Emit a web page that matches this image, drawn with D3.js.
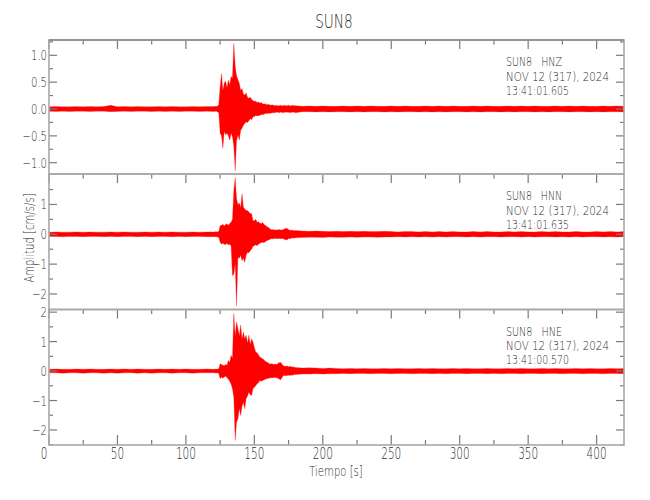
<!DOCTYPE html>
<html><head><meta charset="utf-8">
<script src="https://cdn.jsdelivr.net/npm/d3@7"></script>
<style>
body{margin:0;background:#fff;}
svg text{font-family:"DejaVu Sans","Liberation Sans",sans-serif;font-weight:200;fill:#2e2e2e;}
</style></head><body>
<svg id="chart" width="650" height="500"></svg>
<script>
// ---- data ----
const title = "SUN8";
const station = "SUN8";
const dateLabel = "NOV 12 (317), 2024";
const channels = ["HNZ", "HNN", "HNE"];
const startTimes = ["13:41:01.605", "13:41:01.635", "13:41:00.570"];
const xLabel = "Tiempo [s]";
const yLabel = "Amplitud [cm/s/s]";
const xTicks = [0, 50, 100, 150, 200, 250, 300, 350, 400];
const xMinorTicks = [25, 75, 125, 175, 225, 275, 325, 375];

// sample times (s) of the envelope
const times = [0,5,10,15,20,25,30,35,40,45,50,55,60,65,70,75,80,85,90,95,100,105,110,115,
 120,121,122,123,124,125,126,127,128,129,130,131,132,133,134,135,136,137,138,139,140,
 141,142,143,144,145,146,147,148,149,150,151,152,153,154,155,156,157,158,159,160,
 161,162,163,164,165,166,167,168,169,170,171,172,173,174,175,176,177,178,179,180,
 185,190,195,200,205,210,215,220,225,230,235,240,245,250,255,260,265,270,275,280,
 285,290,295,300,305,310,315,320,325,330,335,340,345,350,355,360,365,370,375,380,
 385,390,395,400,405,410,415,420];

// HNZ envelope (upper / lower)
const hnzHi = [0.04,0.045,0.04,0.04,0.045,0.04,0.045,0.04,0.045,0.07,0.04,0.045,0.04,0.045,0.04,0.04,0.045,0.04,0.045,0.04,0.04,0.045,0.04,0.045,
 0.045,0.045,0.05,0.05,0.08,0.42,0.66,0.35,0.48,0.52,0.40,0.54,0.45,0.60,0.58,1.22,0.80,0.62,0.55,0.48,0.35,
 0.38,0.28,0.26,0.30,0.22,0.20,0.22,0.18,0.16,0.14,0.15,0.12,0.13,0.11,0.12,0.10,0.09,0.10,0.08,0.09,
 0.08,0.07,0.08,0.07,0.06,0.07,0.06,0.06,0.07,0.06,0.06,0.07,0.06,0.06,0.07,0.06,0.06,0.07,0.06,0.06,
 0.05,0.055,0.05,0.055,0.05,0.05,0.055,0.05,0.055,0.05,0.055,0.05,0.05,0.055,0.05,0.055,0.05,0.05,0.055,0.05,
 0.055,0.05,0.055,0.05,0.05,0.055,0.05,0.055,0.05,0.05,0.055,0.05,0.055,0.05,0.055,0.05,0.05,0.055,0.05,0.055,
 0.05,0.055,0.05,0.05,0.055,0.05,0.055,0.05];
const hnzLo = [-0.04,-0.045,-0.04,-0.045,-0.04,-0.04,-0.045,-0.04,-0.04,-0.05,-0.045,-0.04,-0.045,-0.04,-0.04,-0.045,-0.04,-0.045,-0.04,-0.045,-0.04,-0.04,-0.045,-0.04,
 -0.045,-0.045,-0.04,-0.05,-0.07,-0.45,-0.50,-0.73,-0.42,-0.48,-0.45,-0.50,-0.58,-0.45,-0.52,-0.70,-1.15,-0.60,-0.48,-0.58,-0.40,
 -0.36,-0.30,-0.27,-0.24,-0.25,-0.22,-0.18,-0.20,-0.15,-0.14,-0.12,-0.13,-0.12,-0.12,-0.10,-0.10,-0.10,-0.08,-0.09,-0.08,
 -0.08,-0.08,-0.07,-0.07,-0.07,-0.06,-0.06,-0.07,-0.06,-0.06,-0.07,-0.06,-0.06,-0.06,-0.06,-0.07,-0.06,-0.06,-0.06,-0.07,
 -0.05,-0.05,-0.055,-0.05,-0.055,-0.05,-0.05,-0.055,-0.05,-0.055,-0.05,-0.05,-0.055,-0.05,-0.055,-0.05,-0.05,-0.055,-0.05,-0.055,
 -0.05,-0.055,-0.05,-0.05,-0.055,-0.05,-0.055,-0.05,-0.05,-0.055,-0.05,-0.055,-0.05,-0.05,-0.055,-0.05,-0.055,-0.05,-0.05,-0.055,
 -0.05,-0.05,-0.055,-0.05,-0.055,-0.05,-0.05,-0.055];

// HNN envelope
const hnnHi = [0.07,0.08,0.07,0.07,0.08,0.07,0.08,0.07,0.07,0.08,0.07,0.08,0.07,0.07,0.08,0.07,0.08,0.07,0.08,0.07,0.07,0.08,0.07,0.08,
 0.08,0.08,0.09,0.08,0.10,0.29,0.30,0.34,0.28,0.33,0.35,0.30,0.36,0.40,0.50,1.47,1.90,1.20,1.00,1.05,0.90,
 1.36,0.91,0.85,0.80,0.80,0.75,0.70,0.69,0.46,0.45,0.50,0.40,0.42,0.38,0.35,0.40,0.33,0.30,0.26,0.24,
 0.20,0.16,0.15,0.16,0.14,0.15,0.14,0.16,0.15,0.14,0.16,0.18,0.20,0.19,0.15,0.14,0.13,0.14,0.12,0.13,
 0.11,0.10,0.11,0.10,0.09,0.10,0.09,0.10,0.09,0.10,0.09,0.09,0.10,0.09,0.08,0.09,0.09,0.08,0.09,0.08,
 0.09,0.08,0.09,0.08,0.08,0.09,0.08,0.09,0.08,0.08,0.09,0.08,0.09,0.08,0.08,0.09,0.08,0.09,0.08,0.08,
 0.09,0.08,0.08,0.09,0.08,0.09,0.08,0.09];
const hnnLo = [-0.07,-0.07,-0.08,-0.07,-0.07,-0.08,-0.07,-0.07,-0.08,-0.07,-0.08,-0.07,-0.07,-0.08,-0.07,-0.08,-0.07,-0.07,-0.08,-0.07,-0.08,-0.07,-0.07,-0.08,
 -0.08,-0.08,-0.08,-0.09,-0.10,-0.27,-0.33,-0.30,-0.33,-0.35,-0.30,-0.36,-0.33,-0.38,-1.39,-1.34,-1.00,-2.40,-0.78,-0.80,-0.70,
 -0.89,-0.80,-0.94,-0.70,-0.60,-0.62,-0.55,-0.50,-0.40,-0.38,-0.35,-0.38,-0.33,-0.30,-0.28,-0.27,-0.28,-0.25,-0.22,-0.20,
 -0.18,-0.15,-0.16,-0.14,-0.15,-0.14,-0.15,-0.14,-0.15,-0.14,-0.15,-0.17,-0.19,-0.18,-0.14,-0.15,-0.13,-0.12,-0.13,-0.12,
 -0.11,-0.10,-0.10,-0.11,-0.09,-0.10,-0.10,-0.09,-0.10,-0.09,-0.09,-0.10,-0.09,-0.09,-0.08,-0.09,-0.08,-0.09,-0.08,-0.09,
 -0.08,-0.09,-0.08,-0.08,-0.09,-0.08,-0.09,-0.08,-0.08,-0.09,-0.08,-0.08,-0.09,-0.08,-0.09,-0.08,-0.08,-0.09,-0.08,-0.09,
 -0.08,-0.09,-0.08,-0.08,-0.09,-0.08,-0.09,-0.08];

// HNE envelope
const hneHi = [0.06,0.07,0.06,0.06,0.07,0.06,0.07,0.06,0.06,0.07,0.06,0.07,0.06,0.07,0.06,0.06,0.07,0.06,0.07,0.06,0.07,0.06,0.06,0.07,
 0.06,0.07,0.06,0.07,0.08,0.25,0.22,0.20,0.18,0.22,0.20,0.36,0.30,0.53,0.45,1.95,1.20,1.67,1.44,1.20,1.56,
 1.10,1.33,1.10,1.22,0.95,1.22,0.90,1.10,0.99,0.80,0.65,0.62,0.55,0.48,0.45,0.42,0.38,0.33,0.31,0.28,
 0.25,0.24,0.25,0.22,0.24,0.22,0.25,0.28,0.30,0.25,0.18,0.17,0.16,0.17,0.15,0.16,0.14,0.15,0.13,0.12,
 0.10,0.11,0.10,0.09,0.10,0.09,0.08,0.09,0.08,0.09,0.08,0.08,0.09,0.08,0.09,0.08,0.08,0.09,0.08,0.09,
 0.08,0.08,0.09,0.08,0.09,0.08,0.08,0.09,0.08,0.08,0.09,0.08,0.09,0.08,0.08,0.09,0.08,0.09,0.08,0.08,
 0.09,0.08,0.09,0.08,0.08,0.09,0.08,0.09];
const hneLo = [-0.06,-0.06,-0.07,-0.06,-0.06,-0.07,-0.06,-0.06,-0.07,-0.06,-0.07,-0.06,-0.06,-0.07,-0.06,-0.07,-0.06,-0.06,-0.07,-0.06,-0.06,-0.07,-0.06,-0.06,
 -0.06,-0.06,-0.07,-0.06,-0.08,-0.26,-0.20,-0.24,-0.20,-0.18,-0.22,-0.28,-0.35,-0.45,-0.60,-0.90,-2.36,-1.74,-1.62,-1.28,-1.51,
 -1.20,-1.06,-1.28,-0.94,-0.85,-0.72,-0.80,-0.83,-0.60,-0.55,-0.50,-0.43,-0.40,-0.32,-0.35,-0.32,-0.30,-0.28,-0.26,-0.25,
 -0.24,-0.22,-0.24,-0.21,-0.23,-0.22,-0.24,-0.26,-0.30,-0.24,-0.16,-0.15,-0.16,-0.15,-0.14,-0.15,-0.13,-0.14,-0.12,-0.12,
 -0.10,-0.10,-0.09,-0.10,-0.09,-0.09,-0.08,-0.09,-0.08,-0.08,-0.09,-0.08,-0.08,-0.09,-0.08,-0.08,-0.09,-0.08,-0.08,-0.09,
 -0.08,-0.09,-0.08,-0.08,-0.09,-0.08,-0.08,-0.09,-0.08,-0.09,-0.08,-0.08,-0.09,-0.08,-0.08,-0.09,-0.08,-0.08,-0.09,-0.08,
 -0.08,-0.09,-0.08,-0.08,-0.09,-0.08,-0.08,-0.09];

const yDomains = [[-1.21, 1.285], [-2.52, 2.02], [-2.51, 2.09]];
const yMajorTicks = [[-1.0, -0.5, 0.0, 0.5, 1.0], [-2, -1, 0, 1], [-2, -1, 0, 1, 2]];
const yMinorTicks = [[-0.75, -0.25, 0.25, 0.75, 1.25], [-1.5, -0.5, 0.5, 1.5], [-2.5, -1.5, -0.5, 0.5, 1.5]];
const yFormats = [".1f", "d", "d"];

// ---- layout ----
const svg = d3.select("#chart");
const left = 49, right = 624;
const panelTops = [40, 174, 309.5];
const panelBottoms = [174, 309.5, 445];
const x = d3.scaleLinear().domain([0, 420]).range([left, right]);

const series = [[hnzHi, hnzLo], [hnnHi, hnnLo], [hneHi, hneLo]];
const axisCol = "#a8a8a8", tickCol = "#7a7a7a";
const fmtMinus = f => v => d3.format(f)(v).replace("-", "\u2212");
// narrow the glyphs horizontally, like the thin stroke font of the original
function squeeze(sel, k) {
  sel.each(function () {
    const w = this.getComputedTextLength();
    d3.select(this).attr("textLength", w * k).attr("lengthAdjust", "spacingAndGlyphs");
  });
}

series.forEach((s, i) => {
  const y = d3.scaleLinear().domain(yDomains[i]).range([panelBottoms[i], panelTops[i]]);
  const pts = times.map((t, k) => ({t, hi: s[0][k], lo: s[1][k]}));
  const area = d3.area().x(d => x(d.t)).y0(d => y(d.lo)).y1(d => y(d.hi));
  svg.append("path").datum(pts).attr("d", area)
    .attr("fill", "#ff0000").attr("stroke", "#ff1a1a").attr("stroke-width", 0.3);

  const g = svg.append("g");
  const hl = (data, x1, x2) => g.append("g").selectAll("line").data(data).join("line")
    .attr("x1", x1).attr("x2", x2).attr("y1", d => y(d)).attr("y2", d => y(d))
    .attr("stroke", tickCol).attr("stroke-width", 1.2);
  hl(yMajorTicks[i], left, left + 8);
  hl(yMinorTicks[i], left, left + 4);
  hl(yMajorTicks[i], right, right - 8);
  hl(yMinorTicks[i], right, right - 4);
  const vl = (data, len) => g.append("g").selectAll("line").data(data).join("line")
    .attr("x1", d => x(d)).attr("x2", d => x(d)).attr("y1", panelTops[i]).attr("y2", panelTops[i] + len)
    .attr("stroke", tickCol).attr("stroke-width", 1.2);
  vl(xTicks, 9);
  vl(xMinorTicks, 4.5);
  // y tick labels
  g.append("g").selectAll("text").data(yMajorTicks[i]).join("text")
    .attr("x", left - 2).attr("y", d => y(d) + 5)
    .attr("text-anchor", "end").attr("font-size", 14)
    .text(fmtMinus(yFormats[i]))
    .call(squeeze, 0.72);

  // annotation
  const ann = svg.append("g").attr("transform", `translate(506,${panelTops[i]})`);
  ann.append("text").attr("y", 26).attr("font-size", 13).style("white-space", "pre")
    .attr("textLength", 56).attr("lengthAdjust", "spacingAndGlyphs")
    .text(station + "   " + channels[i]);
  ann.append("text").attr("y", 40.5).attr("font-size", 13)
    .attr("textLength", 103).attr("lengthAdjust", "spacingAndGlyphs")
    .text(dateLabel);
  ann.append("text").attr("y", 54.5).attr("font-size", 13)
    .attr("textLength", 63).attr("lengthAdjust", "spacingAndGlyphs")
    .text(startTimes[i]);
});

// bottom x ticks of last panel (up)
const yb = panelBottoms[2];
svg.append("g").selectAll("line").data(xTicks).join("line")
  .attr("x1", d => x(d)).attr("x2", d => x(d)).attr("y1", yb).attr("y2", yb - 10)
  .attr("stroke", tickCol).attr("stroke-width", 1.2);
svg.append("g").selectAll("line").data(xMinorTicks).join("line")
  .attr("x1", d => x(d)).attr("x2", d => x(d)).attr("y1", yb).attr("y2", yb - 5)
  .attr("stroke", tickCol).attr("stroke-width", 1.2);
svg.append("g").selectAll("text").data(xTicks).join("text")
  .attr("x", d => x(d) - (d === 0 ? 5 : 0)).attr("y", 459)
  .attr("text-anchor", "middle").attr("font-size", 15)
  .text(d => d)
  .call(squeeze, 0.7);

// frames
for (let i = 0; i < 3; i++) {
  svg.append("rect").attr("x", left).attr("y", panelTops[i])
    .attr("width", right - left).attr("height", panelBottoms[i] - panelTops[i])
    .attr("fill", "none").attr("stroke", axisCol).attr("stroke-width", 1.6);
}
svg.append("line").attr("x1", left).attr("x2", right).attr("y1", panelTops[0]).attr("y2", panelTops[0])
  .attr("stroke", "#888").attr("stroke-width", 1.6);

// titles
svg.append("text").attr("x", 334).attr("y", 28).attr("text-anchor", "middle")
  .attr("font-size", 19).text(title).call(squeeze, 0.72);
svg.append("text").attr("x", 336).attr("y", 476).attr("text-anchor", "middle")
  .attr("font-size", 14).text(xLabel).call(squeeze, 0.72);
svg.append("text").attr("transform", "translate(34,238) rotate(-90)")
  .attr("text-anchor", "middle").attr("font-size", 14).text(yLabel).call(squeeze, 0.72);
</script>
</body></html>
